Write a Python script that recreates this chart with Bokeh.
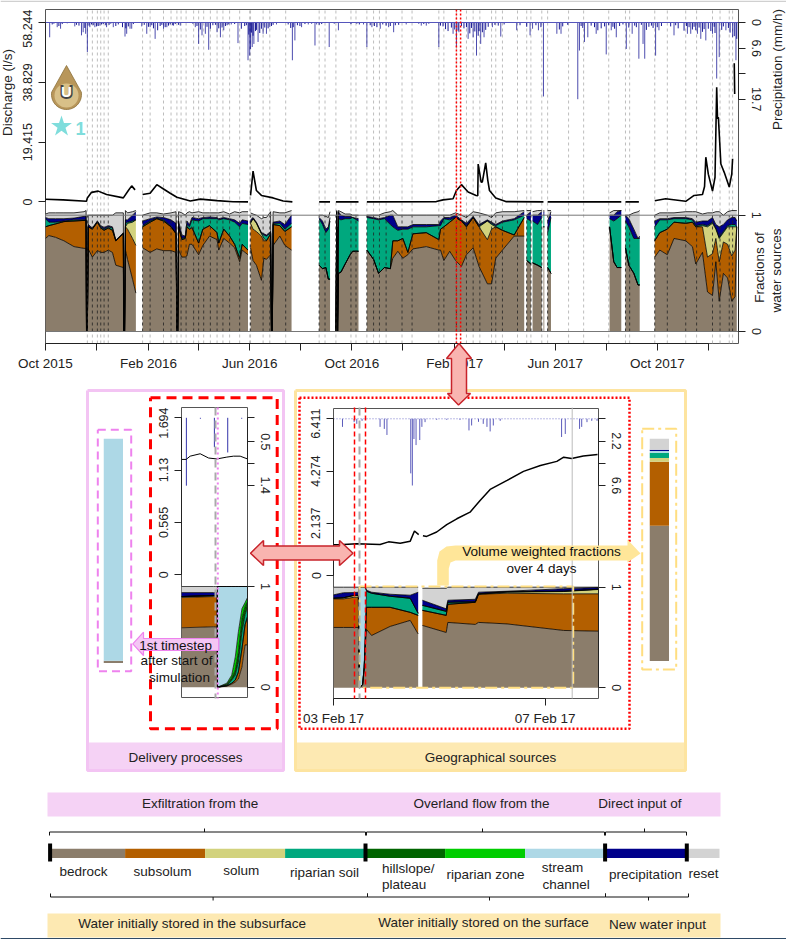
import math
import numpy as np
from bokeh.embed import file_html
from bokeh.resources import INLINE
from bokeh.plotting import figure
from bokeh.layouts import column
from bokeh.models import Range1d, LinearAxis, FixedTicker, Span
from bokeh.core.properties import value

G = None
FONT = "Liberation Sans"
# ---------- layer names and colours
layer_names = ["bedrock", "subsolum", "solum", "riparian soil", "hillslope/plateau", "riparian zone",
               "stream channel", "precipitation", "reset"]
layer_colors = ["#8B7D6B", "#B35F00", "#D2D27D", "#00A87E", "#006400", "#00CD00", "#ADD8E6", "#00008B", "#D3D3D3"]

# ---------- overview: days since 1 Oct 2015
month_ticks = [0, 61, 123, 183, 244, 305, 366, 427, 489, 548, 609, 670, 731, 792]
month_labels = ["Oct 2015", "", "Feb 2016", "", "Jun 2016", "", "Oct 2016", "", "Feb 2017", "", "Jun 2017", "", "Oct 2017", ""]

stack_day = [0,4,12,22,34,46,48.5,49,50,51,56,62,66,70,75,80,84,93,93.5,94.5,95.5,98,104,108,G,
 116,125,133,141,150,156,157,158,159,163,167,169,172,175,183,188,196,205,207,213,220,226,232,235,242,G,
 245,248,252,258,261,264,269,270,271,272,280,286,294,G,
 327,331,335,338,340,G,
 347,348,349,350,353,358,364,367,374,G,
 384,392,398,405,412,415,421,427,433,439,455,470,472,476,483,490,497,503,511,518,528,533,538,546,560,572,G,
 575,580,G, 582,588,593,G, 595,596,G, 600,604,G,
 674,679,683,688,G, 693,697,703,708,710,G,
 728,734,743,751,765,773,777,785,791,797,801,805,810,815,820,824,826]
top_bedrock = [.80,.825,.81,.78,.73,.715,.715,0,0,.71,.64,.695,.68,.68,.70,.68,.57,.55,0,0,.70,.62,.45,.33,G,
 .72,.68,.71,.695,.695,.68,0,0,.70,.64,.64,.65,.75,.75,.66,.74,.82,.79,.70,.80,.76,.72,.60,.70,.66,G,
 .72,.61,.57,.44,.63,.62,.66,0,0,.74,.82,.74,.70,G,
 .57,.54,.55,.45,.45,G,
 0,.9,0,.50,.51,.58,.66,.69,.69,G,
 .70,.62,.50,.55,.54,.63,.69,.63,.66,.71,.73,.70,.70,.61,.69,.61,.56,.66,.72,.56,.41,.41,.63,.70,.82,.82,G,
 .61,.58,G, .59,.57,.55,G, .9,.9,G, .55,.50,G,
 .90,.60,.55,.55,G, .72,.57,.50,.40,.40,G,
 .64,.70,.66,.80,.78,.73,.58,.68,.34,.31,.60,.26,.50,.46,.26,.30,.90]
top_subsolum = [.90,.91,.925,.945,.95,.955,.955,0,0,.90,.88,.94,.89,.87,.89,.87,.78,.84,0,0,.90,.88,.80,.74,G,
 .90,.94,.97,.95,.90,.84,0,0,.90,.79,.80,.90,.88,.89,.76,.88,.91,.85,.76,.88,.82,.75,.63,.75,.70,G,
 .93,.88,.86,.82,.78,.78,.84,0,0,.92,.91,.86,.90,G,
 .57,.54,.55,.45,.45,G,
 0,.9,0,.50,.51,.58,.66,.69,.69,G,
 .70,.62,.50,.55,.54,.78,.78,.80,.68,.84,.85,.79,.88,.90,.94,.98,.95,.90,.98,.90,.79,.88,.90,.87,.83,.98,G,
 .61,.58,G, .59,.57,.55,G, .9,.9,G, .55,.50,G,
 .90,.60,.55,.55,G, .72,.57,.50,.40,.40,G,
 .78,.85,.88,.94,.93,.94,.90,.90,.64,.67,.80,.60,.77,.75,.65,.70,.90]
top_solum = [.90,.91,.925,.945,.95,.955,.955,0,0,.90,.88,.94,.89,.87,.89,.87,.78,.84,0,0,.90,.93,.94,.96,G,
 .90,.94,.97,.95,.90,.84,0,0,.90,.79,.80,.90,.88,.90,.76,.88,.91,.85,.76,.88,.82,.75,.63,.75,.70,G,
 .93,.97,.93,.84,.80,.78,.84,0,0,.92,.91,.86,.90,G,
 .57,.54,.55,.45,.45,G,
 0,.9,0,.50,.51,.58,.66,.69,.69,G,
 .70,.62,.50,.55,.54,.78,.78,.80,.68,.84,.85,.79,.88,.90,.94,.98,.95,.90,.98,.90,.95,.92,.90,.87,.83,.98,G,
 .61,.58,G, .59,.57,.55,G, .9,.9,G, .55,.50,G,
 .90,.60,.55,.55,G, .72,.57,.50,.40,.40,G,
 .78,.85,.88,.94,.93,.94,.90,.91,.90,.93,.88,.80,.85,.90,.90,.90,.90]
top_riparian = [.97,.94,.94,.95,.96,.96,.96,0,0,.90,.885,.945,.90,.88,.90,.89,.78,.845,0,0,.93,.94,.95,.96,G,
 .91,.95,.975,.96,.905,.845,0,0,.905,.80,.81,.92,.90,.96,.95,.97,.97,.97,.96,.97,.96,.94,.90,.93,.92,G,
 .94,.97,.935,.845,.83,.82,.85,0,0,.93,.93,.88,.93,G,
 .97,.92,.85,.88,.95,G,
 0,1.0,0,.97,.96,.97,.97,.98,.95,G,
 .98,.97,.96,.97,.92,.90,.87,.88,.88,.90,.90,.91,.91,.97,.96,.98,.955,.91,.98,.91,.95,.93,.91,.94,.96,1.0,G,
 .97,.95,G, .95,.92,.98,G, 1,1,G, .85,.98,G,
 .97,.95,.97,1.0,G, .95,.90,.80,.80,.80,G,
 .90,.96,.96,.97,.97,.96,.91,.92,.91,.94,.89,.81,.86,.91,.92,.92,.90]
top_precip = [.98,.97,.97,.97,.975,.99,.99,0,0,.92,.89,.95,.91,.895,.91,.90,.785,.85,0,0,.96,.96,1.0,1.03,G,
 .95,.97,.985,.98,.96,.93,0,0,.95,.83,.82,.95,.92,.98,.97,.98,.985,.98,.97,.98,.97,.96,.93,.96,.95,G,
 .96,.98,.94,.85,.84,.83,.86,0,0,.94,.95,.92,1.0,G,
 .98,.95,.88,.90,.98,G,
 0,1.03,0,1.03,1.0,.99,.99,.98,.97,G,
 .99,.98,.97,.98,1.0,1.0,.90,.90,.90,.92,.92,.92,.95,.98,.98,1.0,.96,.93,.99,.92,.96,.94,.92,.95,.97,1.03,G,
 1.0,1.03,G, 1.0,1.0,1.03,G, 1.03,1.03,G, .95,1.03,G,
 1.0,1.0,1.03,1.04,G, 1.0,.97,.88,.80,.82,G,
 .95,.97,.97,.98,.98,.97,.94,.95,.95,.98,.92,.90,.92,.96,.98,.98,.95]
top_reset = [1.01,1.02,1.02,1.02,1.02,1.03,1.04,0,0,1.0,1.0,1.0,1.0,1.0,1.0,1.0,1.02,1.02,0,0,1.04,1.02,1.03,1.04,G,
 1.0,1.02,1.02,1.01,1.02,1.03,0,0,1.03,1.02,1.0,1.02,1.03,1.02,1.03,1.02,1.02,1.02,1.02,1.03,1.01,1.03,1.02,1.03,1.03,G,
 1.02,1.01,1.0,.97,.98,.98,1.03,0,0,1.03,1.02,1.02,1.04,G,
 1.0,1.0,.99,.98,1.03,G,
 0,1.04,0,1.04,1.03,1.01,1.01,1.0,1.0,G,
 1.0,1.0,1.0,1.02,1.03,1.04,1.0,1.0,1.0,1.0,1.0,1.0,1.0,1.0,1.0,1.02,1.0,.98,1.03,1.02,1.0,.98,1.02,1.03,1.03,1.04,G,
 1.04,1.04,G, 1.03,1.04,1.04,G, 1.04,1.04,G, 1.04,1.04,G,
 1.02,1.04,1.04,1.04,G, 1.0,1.0,1.02,1.03,1.04,G,
 1.0,1.02,1.02,1.02,1.03,1.03,1.03,1.01,1.02,1.02,1.03,1.03,1.0,1.03,1.04,1.04,1.04]

q_day = [0,21,49,50,55,63,73,93,99,103,107,G,116,125,133,141,149,157,173,185,205,224,242,G,
 245,248,252,258,272,284,295,G,327,340,G,347,374,G,384,467,475,487,491,497,505,514.5,516.5,517,519,520.5,522,526,528.5,530.5,538,550,595,G,
 600,688,G,693,709,G,728,741,765,775,785,787.5,789,792,797,800,802,803,804,807,811,817,820,821,G,823,823.5]
q_val = [.87,.65,.22,1.3,3.1,3.5,2.4,1.3,3.7,5.2,3.9,G,2.4,2.8,5.6,4.2,2.8,1.5,.3,.9,.4,.05,0,G,
 2.1,10,3.7,2.1,1.3,.3,0,G,0,0,G,0,0,G,0,.1,.65,1,3.7,5.6,3.2,2.1,2,12.3,9,6.4,6.5,12.7,7,3.7,1.3,.1,0,G,
 0,0,G,0,0,G,.4,1,.2,2.1,2.4,5,14.5,9,3.5,8,37.2,27,27.5,12.3,9.6,4.8,9,14,G,45,35]

rain_day = [5,14,18,35,43,45,48,50,53,59,65,73,81,95,97,101,103,115,121,125,131,141,145,153,161,179,183,187,191,195,205,209,213,222,230,
 242,244,245,247,249,254,260,264,268,276,295,298,306,314,322,324,339,350,380,384,390,400,410,
 416,431,449,455,470,487,491,494,505,511,515,520,524,534,544,563,579,582,589,595,611,616,636,638,644,648,658,670,676,682,694,701,709,714,716,729,733,751,767,771,779,783,789,797,802,805,813,821,825]
rain_val = [3.8,1.2,1.6,1,3.3,2.5,2.9,7.6,1.2,1.2,.8,1.2,1.2,3.6,2.9,1.6,1.6,1,2.9,1.2,4.2,1.6,1.2,.8,.8,1.2,5.5,3.3,2.9,7,2.5,3.8,2,.5,5.3,
 9.7,8.5,6.8,6.3,5.5,5,2.9,2.9,1.2,.5,9.7,4.6,1.2,.5,5.9,.5,6.3,2,.5,6.3,1.2,1.6,1.2,
 2.5,.5,.8,.8,6.3,2.9,6.3,2.5,4.2,3.8,8.5,5.5,3.8,1.2,3.6,2,3.3,1.6,2,19,2.9,2.9,19.7,7.2,5,3.8,2.9,8.2,2,3.8,6.8,2.9,9.3,5.5,9.3,8.5,2,3.3,2.9,2.9,2.9,4.2,4.6,2.9,14.4,8.9,2,3.8,9.7]
drizzle_day = [8,10,16,20,26,37,40,47,52,55,
 57,61,63,67,69,72,76,78,84,87,
 92,96,99,105,118,123,127,129,134,137,
 139,143,147,149,152,155,159,176,181,185,
 193,197,200,203,207,211,215,217,219,226,
 234,238,240,243,246,248,251,252,256,258,
 262,266,270,272,290,293,296,301,304,310,
 318,327,330,345,365,372,375,388,393,396,
 403,407,412,418,422,446,452,458,472,475,
 478,481,485,489,493,497,500,503,507,509,
 513,517,518,522,526,529,537,541,548,567,
 575,586,592,614,618,624,640,642,652,656,
 660,664,668,673,678,680,686,690,697,704,
 706,712,718,721,724,726,731,736,747,753,
 756,763,766,769,773,775,777,781,785,787,
 792,795,799,800,808,810,816,818,823,826]
drizzle_val = [.5,.3,.9,.4,.2,.6,.8,1.4,.8,.5,
 .7,1.0,.9,.5,.4,.7,.6,.3,.9,.5,
 1.2,1.5,1.0,.4,.6,1.1,.7,1.5,2.0,.9,
 .6,1.2,.8,.5,.7,.4,.6,.3,.9,1.8,
 1.1,1.6,.7,.6,1.5,1.3,.9,.7,.5,.4,
 1.6,.9,.7,3.1,2.6,3.4,2.2,1.9,2.7,1.6,
 1.3,1.5,.9,.6,.5,1.4,1.2,.7,.9,.4,
 .3,.6,.4,.3,.4,.3,.5,.7,.9,1.2,
 .5,.8,.9,.7,.6,.3,.4,.3,.8,1.0,
 1.7,2.2,1.3,1.8,2.1,.9,1.5,1.2,2.8,1.4,
 2.3,3.4,2.2,2.5,1.9,1.1,.6,.8,.5,.7,
 1.1,.7,1.2,1.8,1.0,.6,.9,1.4,.8,1.2,
 2.0,1.5,1.0,.7,1.1,1.6,.9,.5,1.3,.8,
 1.2,.6,1.9,1.1,.8,1.4,1.2,.9,1.0,.7,
 1.5,2.1,.9,1.2,1.8,1.1,2.0,1.3,2.4,1.7,
 1.6,2.2,1.1,2.7,1.9,1.0,1.4,2.6,3.5,4.2]
event_days = [50,56,62,66,70,75,116,125,141,150,157,162,168,177,183,189,197,205,212,220,232,244,245,260,268,287,327,334,347,365,371,384,392,399,407,
 426,438,470,476,491,503,511,519,533,538,546,564,575,580,593,600,625,643,673,693,698,728,743,765,778,797,806,817,821]
discharge_ticks = [0, 19.415, 38.829, 58.244]
precip_ticks = [0, 6.6, 13.1, 19.7]
precip_tick_labels = ["0", "6.6", "", "19.7"]

# ---------- delivery detail: minutes
deliv_q_min = [0,21,39,84,122,159,204,234,264,297]
deliv_q = [1.245,1.245,1.28,1.306,1.26,1.25,1.27,1.28,1.28,1.25]
deliv_rain_min = [22,85,148,208,271]
deliv_rain = [1.41,.02,.61,.72,.02]
deliv_min = [0,144,152,161,162,204,226,242,256,272,286,297]
deliv_bedrock = [.59,.60,.60,.60,0,.01,.03,.05,.08,.20,.42,.42]
deliv_subsolum = [.89,.90,.90,.90,0,.015,.04,.07,.15,.38,.62,.70]
deliv_solum = [.90,.91,.91,.91,0,.015,.04,.07,.15,.38,.62,.70]
deliv_riparian = [.90,.91,.91,.91,0,.02,.07,.12,.25,.55,.72,.80]
deliv_hillslope = [.90,.91,.91,.91,0,.03,.09,.17,.35,.68,.80,.85]
deliv_ripzone = [.90,.91,.91,.91,0,.04,.12,.30,.55,.78,.84,.89]
deliv_stream = [.90,.91,.91,.91,1,1,1,1,1,1,1,1]
deliv_precip = [.94,.94,.94,.94,1,1,1,1,1,1,1,1]
deliv_reset = [1,1,1,1,1,1,1,1,1,1,1,1]

# ---------- geographical detail: days since 3 Feb 2017
geo_q_day = [0,.19,.44,.88,1.04,1.26,1.45,1.53,1.61,G,1.69,1.76,1.95,2.14,2.33,2.58,2.77,2.96,3.28,3.59,3.91,4.22,4.35,4.5,4.72,4.99]
geo_q = [1.255,1.27,1.30,1.27,1.376,1.32,1.405,1.82,1.67,G,1.63,1.6,1.78,2.08,2.32,2.59,3.07,3.52,3.89,4.26,4.5,4.67,4.84,4.79,4.89,4.95]
geo_rain_day = [.17,.39,.44,.54,.88,.96,1.01,1.46,1.49,1.52,1.56,1.63,1.67,1.73,1.95,2.14,2.39,2.56,2.61,2.74,2.83,2.9,2.96,3.02,3.15,4.31,4.38,4.65,4.69,4.79,4.88,4.98]
geo_rain = [.8,.33,.5,.2,.8,1,1.6,5.4,6.6,2,2.6,2.1,.8,.33,.1,.1,.1,1.15,.66,.3,.5,.8,1.25,.66,.2,1.8,1.5,1,.8,.33,.2,.2]
geo_day = [0,.19,.39,.47,.49,.55,.58,.60,.625,.72,1.07,1.45,1.60,G,1.68,2.13,2.16,2.68,2.74,3.28,4.35,5.0]
geo_bedrock = [.60,.60,.60,.60,0,.03,.2,.42,.58,.52,.61,.67,.535,G,.62,.55,.65,.63,.65,.635,.57,.563]
geo_subsolum = [.884,.884,.90,.90,0,.03,.2,.45,.80,.80,.80,.75,.72,G,.77,.72,.83,.85,.93,.94,.934,.934]
geo_solum = [.89,.895,.917,.917,0,.03,.2,.45,.80,.80,.80,.75,.72,G,.77,.72,.83,.85,.93,.95,.957,.977]
geo_riparian = [.89,.895,.92,.92,0,.03,.21,.55,.96,.94,.91,.89,.74,G,.82,.76,.85,.855,.935,.955,.96,.98]
geo_stream = [.89,.895,.92,.92,1,1,1,1,.96,.94,.91,.89,.74,G,.82,.76,.85,.855,.935,.955,.96,.98]
geo_precip = [.924,.945,.947,.95,1,1,1,1,.97,.95,.93,.92,.95,G,.87,.785,.87,.88,.95,.96,.985,.997]
geo_reset = [1,1,1,1,1,1,1,1,1,1,1,1,1,G,.99,.99,1,1,1,1,1,1]

# ---------- side bars (fractions)
first_step_fractions = [.012,0,0,0,0,0,.988,0,0]
weighted_fractions = [.609,.287,.016,.024,0,0,.008,.006,.05]

# ---------- texts
band_top = ["Exfiltration from the", "Overland flow from the", "Direct input of"]
band_bottom = ["Water initially stored in the subsurface", "Water initially stored on the surface", "New water input"]
strip_widths = [1, 1, 1, 1, 1, 1, 1, 1, 0.43]


def place(fig, left, top):
    fig.styles = {"position": "absolute", "left": f"{left}px", "top": f"{top}px"}
    return fig


def yr(y0, y1, va, pa, vb, pb):
    k = (vb - va) / (pb - pa)
    return Range1d(start=va + (y1 - pa) * k, end=va + (y0 - pa) * k)


def panel(x0, y0, x1, y1, xrange, yrange, ml=0, mr=0, mt=0, mb=0):
    p = figure(width=x1 - x0 + ml + mr, height=y1 - y0 + mt + mb, x_range=xrange, y_range=yrange,
               output_backend="svg", toolbar_location=None, x_axis_type=None, y_axis_type=None,
               min_border_left=ml, min_border_right=mr, min_border_top=mt, min_border_bottom=mb,
               frame_align=False)
    p.background_fill_alpha = 0
    p.border_fill_alpha = 0
    p.outline_line_color = None
    place(p, x0 - ml, y0 - mt)
    return p


def style_axis(ax, ticks, labels, bounds, orient=True, out=7, standoff=6, size="12.5px"):
    ax.ticker = FixedTicker(ticks=list(ticks))
    ax.major_label_overrides = dict(zip(ticks, labels))
    ax.bounds = bounds
    ax.major_tick_out = out
    ax.major_tick_in = 0
    ax.minor_tick_line_color = None
    ax.major_label_standoff = standoff
    ax.major_label_text_font = FONT
    ax.major_label_text_font_size = size
    ax.major_label_text_color = "#222222"
    ax.axis_line_color = "#222222"
    ax.major_tick_line_color = "#222222"
    if orient:
        ax.major_label_orientation = "vertical"


def split_segments(x):
    segs, cur = [], []
    for i, v in enumerate(x):
        if v is None:
            segs.append(cur); cur = []
        else:
            cur.append(i)
    segs.append(cur)
    return segs


def draw_stack(p, x, tops, colors, lw=0.8):
    segs = split_segments(x)
    prev = [0.0] * len(x)
    for top, col in zip(tops, colors):
        xs, ys = [], []
        for s in segs:
            sx = [x[i] for i in s]
            xs.append(sx + sx[::-1])
            ys.append([top[i] for i in s] + [prev[i] for i in s][::-1])
        p.patches(xs=xs, ys=ys, fill_color=col, line_color=None)
        prev = top
    prev = None
    for top in tops:
        if top is prev:
            continue
        p.multi_line(xs=[[x[i] for i in s] for s in segs], ys=[[top[i] for i in s] for s in segs],
                     line_color="black", line_width=lw)
        prev = top


def pts(a):
    return np.array(a, dtype=float)


def full_figure():
    p = panel(0, 0, 786, 939, Range1d(0, 786), Range1d(939, 0))
    return p


def txt(p, x, y, s, size="13.5px", align="center", color="#222222", angle=0, style="normal"):
    p.text(x=[x], y=[y], text=[s], text_font=value(FONT), text_font_size=value(size), text_align=value(align),
           text_baseline=value("middle"), text_color=value(color), angle=value(angle), text_font_style=value(style))


def box(p, x0, y0, x1, y1, color, width, dash="solid"):
    p.multi_line(xs=[[x0, x1, x1, x0, x0]], ys=[[y0, y0, y1, y1, y0]], line_color=color, line_width=width, line_dash=dash)


# ============ base layer
base = full_figure()
base.quad(left=[0], right=[786], top=[0], bottom=[1.5], fill_color="#D0D0D0", line_color=None)
base.quad(left=[0], right=[786], top=[937.5], bottom=[939], fill_color="#2F4A66", line_color=None)
base.quad(left=[87, 295], right=[283, 685], top=[742, 742], bottom=[770, 770], fill_color=["#F5D2F5", "#FDE9B2"], line_color=None)
box(base, 87, 390, 283, 770, "#F3C4F3", 3)
box(base, 295, 390, 685, 770, "#FDE4A0", 3)
txt(base, 185, 757, "Delivery processes")
txt(base, 490, 757, "Geographical sources")
base.quad(left=[47, 47], right=[720, 720], top=[792, 913], bottom=[816, 937], fill_color=["#F5D2F5", "#FDE9B2"], line_color=None)
for s, x in zip(band_top, [199.6, 481, 639.4]):
    txt(base, x, 803, s)
for s, x, y in zip(band_bottom, [191.6, 483, 657], [923, 922, 924]):
    txt(base, x, y, s)
leg_x = [83, 162, 240.7, 324, 407.7, 403.7, 485, 562, 565.7, 645, 703]
leg_y = [871, 871, 870, 872, 868, 884, 874, 867, 884, 874, 873]
leg_s = ["bedrock", "subsolum", "solum", "riparian soil", "hillslope/", "plateau", "riparian zone", "stream", "channel", "precipitation", "reset"]
for s, x, y in zip(leg_s, leg_x, leg_y):
    txt(base, x, y, s)
# braces
for a, c, b in [(49, 204, 365), (366, 482, 604), (605, 644, 686)]:
    base.multi_line(xs=[[a, a, b, b], [c, c]], ys=[[835, 831.5, 831.5, 835], [831.5, 828]], line_color="#111111", line_width=1)
for a, c, b in [(50, 212.6, 367), (367, 489, 605), (605, 648, 688)]:
    base.multi_line(xs=[[a, a, b, b], [c, c]], ys=[[893, 896.5, 896.5, 893], [896.5, 900]], line_color="#111111", line_width=1)
# axis titles
txt(base, 7, 92, "Discharge (l/s)", angle=math.pi / 2)
txt(base, 777, 69, "Precipitation (mm/h)", angle=math.pi / 2)
txt(base, 759, 267, "Fractions of", angle=math.pi / 2)
txt(base, 776, 270, "water sources", angle=math.pi / 2)

# colour strip
strip_left = np.cumsum([0] + strip_widths[:-1])
strip_right = np.cumsum(strip_widths)
strip = panel(50, 847, 720, 858, Range1d(0.0675, 0.0675 + 670 / 80), Range1d(0, 1))
strip.quad(left=strip_left, right=strip_right, bottom=0, top=1, fill_color=layer_colors, line_color=None)

# ============ overview
FX0, FY0, FX1, FY1 = 45, 9, 738, 343
ov_x = lambda: Range1d(0, (738.3 - 45.3) / 0.8369)
top = panel(FX0, FY0, FX1, FY1, ov_x(), yr(FY0, FY1, 0, 201.4, 58.244, 22), ml=45, mr=47, mb=35)
top.extra_y_ranges = {"rain": yr(FY0, FY1, 0, 22, 19.7, 98.7)}
top.outline_line_color = "#555555"
ev = pts(event_days)
yrng = top.y_range
top.segment(x0=ev, x1=ev, y0=yrng.start, y1=yrng.end, line_color="#BDBDBD", line_dash="3 3", line_width=1)
rd = pts(rain_day)
top.segment(x0=rd, x1=rd, y0=0, y1=pts(rain_val), y_range_name="rain", line_color="#00008B", line_alpha=0.7, line_width=1)
dd = pts(drizzle_day)
top.segment(x0=dd, x1=dd, y0=0, y1=pts(drizzle_val), y_range_name="rain", line_color="#00008B", line_alpha=0.9, line_width=1)
top.segment(x0=[0], x1=[828], y0=[0], y1=[0], y_range_name="rain", line_color="#5555BB", line_width=1)
top.line(pts(q_day), pts(q_val), line_color="black", line_width=1.6)
la = LinearAxis(); style_axis(la, discharge_ticks, [f"{t:g}" for t in discharge_ticks], (0, 58.244))
top.add_layout(la, "left")
ra = LinearAxis(y_range_name="rain"); style_axis(ra, precip_ticks, precip_tick_labels, (0, 19.7))
top.add_layout(ra, "right")
ba = LinearAxis(); style_axis(ba, month_ticks, month_labels, (0, 792), orient=False, standoff=5, size="13.5px")
top.add_layout(ba, "below")

stk = panel(FX0, FY0, FX1, FY1, ov_x(), yr(FY0, FY1, 0, 331, 1, 214.7), mr=47)
draw_stack(stk, stack_day, [top_bedrock, top_subsolum, top_solum, top_riparian, top_precip, top_reset],
           [layer_colors[0], layer_colors[1], layer_colors[2], layer_colors[3], layer_colors[7], layer_colors[8]])
spans = [(stack_day[s[0]], stack_day[s[-1]]) for s in split_segments(stack_day)]
ev_in = pts([d for d in event_days if any(a <= d <= b for a, b in spans)])
stk.segment(x0=ev_in, x1=ev_in, y0=0, y1=1, line_color="#222222", line_dash="3 3", line_width=0.8)
stk.add_layout(Span(location=1, dimension="width", line_color="#777777", line_width=1))
stk.add_layout(Span(location=0, dimension="width", line_color="#777777", line_width=1))
for d in (491, 496):
    stk.add_layout(Span(location=d, dimension="height", line_color="red", line_dash="2 2", line_width=1.5))
fa = LinearAxis(); style_axis(fa, [0, 1], ["0", "1"], (0, 1))
stk.add_layout(fa, "right")

# ============ delivery detail
DX0, DY0, DX1, DY1 = 181, 407, 247, 698
dxr = lambda: Range1d(0, 297)
dq = panel(DX0, DY0, DX1, DY1, dxr(), yr(DY0, DY1, 0, 574.3, 1.694, 417.3), ml=45, mr=35)
dq.extra_y_ranges = {"rain": yr(DY0, DY1, 0, 417.3, 1.4, 484.7)}
dq.outline_line_color = "#555555"
dq.segment(x0=pts(deliv_rain_min), x1=pts(deliv_rain_min), y0=0, y1=pts(deliv_rain), y_range_name="rain", line_color="#3333AA", line_width=1)
dq.line(pts(deliv_q_min), pts(deliv_q), line_color="black", line_width=1)
a = LinearAxis(); style_axis(a, [0, .565, 1.13, 1.694], ["0", "0.565", "1.13", "1.694"], (0, 1.694))
dq.add_layout(a, "left")
a = LinearAxis(y_range_name="rain"); style_axis(a, [0, .5, .95, 1.4], ["", "0.5", "", "1.4"], (0, 1.4))
dq.add_layout(a, "right")
ds = panel(DX0, DY0, DX1, DY1, dxr(), yr(DY0, DY1, 0, 686.7, 1, 586), mr=35)
draw_stack(ds, deliv_min, [deliv_bedrock, deliv_subsolum, deliv_solum, deliv_riparian, deliv_hillslope,
                           deliv_ripzone, deliv_stream, deliv_precip, deliv_reset], layer_colors, lw=0.7)
a = LinearAxis(); style_axis(a, [0, 1], ["0", "1"], (0, 1))
ds.add_layout(a, "right")

# ============ geographical detail
GX0, GY0, GX1, GY1 = 333, 408, 598, 698
gxr = lambda: Range1d(0, (598.3 - 333.3) / 52.92)
gq = panel(GX0, GY0, GX1, GY1, gxr(), yr(GY0, GY1, 0, 575, 6.411, 418.3), ml=45, mr=35, mb=30)
gq.extra_y_ranges = {"rain": yr(GY0, GY1, 0, 418.3, 6.6, 485)}
gq.outline_line_color = "#555555"
gq.segment(x0=pts(geo_rain_day), x1=pts(geo_rain_day), y0=0, y1=pts(geo_rain), y_range_name="rain", line_color="#3333AA", line_alpha=0.8, line_width=1)
gq.segment(x0=[0], x1=[5], y0=[0], y1=[0], y_range_name="rain", line_color="#7777CC", line_dash="1 2", line_width=1)
gq.line(pts(geo_q_day), pts(geo_q), line_color="black", line_width=1.5)
a = LinearAxis(); style_axis(a, [0, 2.137, 4.274, 6.411], ["0", "2.137", "4.274", "6.411"], (0, 6.411))
gq.add_layout(a, "left")
a = LinearAxis(y_range_name="rain"); style_axis(a, [0, 2.2, 4.4, 6.6], ["", "2.2", "", "6.6"], (0, 6.6))
gq.add_layout(a, "right")
a = LinearAxis(); style_axis(a, [0, 4], ["03 Feb 17", "07 Feb 17"], (0, 4), orient=False, standoff=5, size="13.5px")
gq.add_layout(a, "below")
gs = panel(GX0, GY0, GX1, GY1, gxr(), yr(GY0, GY1, 0, 687.3, 1, 586.7), mr=35)
draw_stack(gs, geo_day, [geo_bedrock, geo_subsolum, geo_solum, geo_riparian, geo_stream, geo_precip, geo_reset],
           [layer_colors[0], layer_colors[1], layer_colors[2], layer_colors[3], layer_colors[6], layer_colors[7], layer_colors[8]], lw=0.8)
a = LinearAxis(); style_axis(a, [0, 1], ["0", "1"], (0, 1))
gs.add_layout(a, "right")


# ============ stacked side bars
def side_bar(x0, y0, x1, y1, fr):
    p = panel(x0, y0, x1, y1, Range1d(0, 1), Range1d(0, 1))
    cum = np.cumsum(fr)
    p.quad(left=0, right=1, bottom=np.r_[0, cum[:-1]], top=cum, fill_color=layer_colors, line_color=None)
    return p


bar1 = side_bar(103, 438, 123, 663, first_step_fractions)
bar2 = side_bar(649, 438, 669, 661, weighted_fractions)

# ============ overlay
ov = full_figure()
box(ov, 150, 397.3, 276.7, 728.3, "red", 3, "10 6")
box(ov, 299, 397.3, 629, 728.3, "red", 2.5, "2 2")
box(ov, 97.3, 429.3, 130.7, 670.7, "#EE82EE", 2, "8 5")
box(ov, 641.7, 428.3, 675.7, 669, "#FFDE80", 2, "12 4 3 4")
box(ov, 359, 586, 572.7, 687.3, "#FFDE80", 2, "12 4 3 4")
ov.multi_line(xs=[[215, 215], [359, 359]], ys=[[407, 698], [407, 698]], line_color="#AAAAAA", line_dash="8 5", line_width=2)
ov.multi_line(xs=[[217.3, 217.3]], ys=[[407, 698]], line_color="#EE82EE", line_dash="2 3", line_width=2)
ov.multi_line(xs=[[354, 354], [365, 365]], ys=[[407, 698], [407, 698]], line_color="red", line_dash="5 3", line_width=1.5)
ov.multi_line(xs=[[571.7, 571.7]], ys=[[407, 698]], line_color="#BBBBBB", line_width=1)
# arrows
AF, AL = "#F9B4B0", "#C8232A"
ov.patch(x=[458.5, 471, 466, 466, 470, 458, 447, 451, 451, 446], y=[343, 358, 358, 393, 393, 404.5, 393, 393, 358, 358],
         fill_color=AF, line_color=AL, line_width=1.5)
ov.patch(x=[250, 263, 263, 339, 339, 352.5, 339, 339, 263, 263], y=[552.7, 540, 545.5, 545.5, 540, 552.7, 565, 559.5, 559.5, 565],
         fill_color=AF, line_color=AL, line_width=1.5)
ov.patch(x=[132.3, 143, 143, 218.3, 218.3, 143, 143], y=[643.3, 631.7, 638, 638, 650, 650, 655],
         fill_color="#F4C6F4", line_color="#EE82EE", line_width=1.2)
ov.patch(x=[436.7, 436.7, 439, 446, 455, 627, 627, 640, 627, 627, 455, 450, 448.3, 448.3],
         y=[585, 560, 551, 546, 545, 545, 539, 553, 562, 560, 560, 562, 568, 585],
         fill_color="#FFE699", line_color=None)
txt(ov, 177, 644.5, "1st  timestep", color="#111111")
txt(ov, 176, 660, "after start of", color="#111111")
txt(ov, 179, 676.7, "simulation", color="#111111")
txt(ov, 541, 551, "Volume weighted fractions", size="13.6px", color="#111111")
txt(ov, 541, 567.5, "over 4 days", color="#111111")
# drop icon and star
th = np.linspace(-0.55 * math.pi, 0.55 * math.pi, 30)
dx = list(66 + 15 * np.sin(th)); dy = list(94 - 15 * np.cos(th + math.pi))
ov.patch(x=[66] + dx, y=[65] + dy, fill_color="#B8965A", line_color="#8C7038", line_width=0.8)
ov.ellipse(x=[66], y=[95], width=[24], height=[24], fill_color="#D8C088", line_color=None)
txt(ov, 66, 91, "U", size="20px", color="#444444", style="bold")
txt(ov, 66, 91, "U", size="15px", color="#FFFFFF", style="bold")
ov.scatter(x=[61], y=[126], marker="star", size=22, fill_color="#7FDDDC", line_color=None)
txt(ov, 80, 128, "1", size="18px", color="#7FDDDC", style="bold")
# thick strip separators
ov.quad(left=[47.6, 363, 602.6, 684.3], right=[51.6, 367, 606.6, 688.3], top=[843, 843, 843, 843], bottom=[861, 861, 861, 861],
        fill_color="black", line_color=None)

layout = column(base, strip, top, stk, dq, ds, gq, gs, bar1, bar2, ov, width=786, height=939,
                styles={"position": "absolute", "left": "0px", "top": "0px"})
open("out.html", "w").write(file_html(layout, INLINE))
